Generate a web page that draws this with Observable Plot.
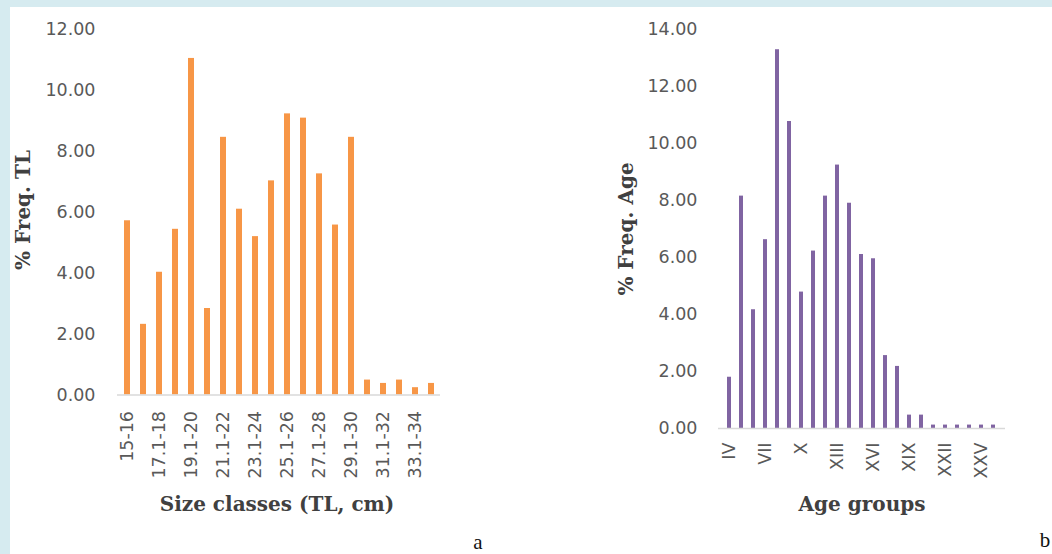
<!DOCTYPE html>
<html>
<head>
<meta charset="utf-8">
<script src="https://cdn.jsdelivr.net/npm/d3@7"></script>
<script src="https://cdn.jsdelivr.net/npm/@observablehq/plot@0.6"></script>
<style>
  html, body { margin: 0; padding: 0; background: #ffffff; }
  #page { position: relative; width: 1052px; height: 554px; background: #d6ebf0; overflow: hidden; }
  #sheet { position: absolute; left: 10px; top: 7px; width: 1042px; height: 547px; background: #ffffff; }
  .chart { position: absolute; top: 0; }
  .title { position: absolute; font-family: "DejaVu Serif", serif; font-weight: bold; font-size: 20px; color: #404040; white-space: nowrap; transform: translate(-50%, -50%); }
  .ytitle { transform: translate(-50%, -50%) rotate(-90deg); }
  .panel { position: absolute; font-family: "Liberation Serif", serif; font-size: 21px; color: #111; transform: translate(-50%, -50%); }
</style>
</head>
<body>
<div id="page">
  <div id="sheet"></div>
</div>
<script>
// ---- Data ----
const sizeClasses = ["15-16","16.1-17","17.1-18","18.1-19","19.1-20","20.1-21","21.1-22","22.1-23","23.1-24","24.1-25",
                     "25.1-26","26.1-27","27.1-28","28.1-29","29.1-30","30.1-31","31.1-32","32.1-33","33.1-34","34.1-35"];
const sizeFreq = [5.72, 2.32, 4.03, 5.44, 11.05, 2.84, 8.46, 6.10, 5.20, 7.03,
                  9.23, 9.09, 7.26, 5.58, 8.46, 0.49, 0.38, 0.49, 0.24, 0.38];
const sizeTicks = ["15-16","17.1-18","19.1-20","21.1-22","23.1-24","25.1-26","27.1-28","29.1-30","31.1-32","33.1-34"];
const sizeYTicks = [0, 2, 4, 6, 8, 10, 12];

const ageGroups = ["IV","V","VI","VII","VIII","IX","X","XI","XII","XIII","XIV","XV","XVI","XVII","XVIII",
                   "XIX","XX","XXI","XXII","XXIII","XXIV","XXV","XXVI"];
const ageFreq = [1.80, 8.16, 4.17, 6.63, 13.30, 10.78, 4.79, 6.23, 8.16, 9.25, 7.91, 6.11, 5.96, 2.56, 2.18,
                 0.47, 0.47, 0.12, 0.12, 0.12, 0.12, 0.12, 0.12];
const ageTicks = ["IV","VII","X","XIII","XVI","XIX","XXII","XXV"];
const ageYTicks = [0, 2, 4, 6, 8, 10, 12, 14];

const orange = "#f79646";
const purple = "#8064a2";

const sizeData = sizeClasses.map((c, i) => ({cls: c, v: sizeFreq[i]}));
const ageData = ageGroups.map((g, i) => ({grp: g, v: ageFreq[i]}));

const baseStyle = {fontFamily: "'DejaVu Sans', sans-serif", fontSize: "17.5px", color: "#595959", background: "transparent", overflow: "visible"};

// Panel a (svg origin at page x=10,y=7)
const chartA = Plot.plot({
  width: 460, height: 480,
  marginLeft: 107, marginRight: 30, marginTop: 22, marginBottom: 92.5,
  style: baseStyle,
  x: {type: "band", domain: sizeClasses, paddingInner: 0.63, paddingOuter: 0.315, label: null},
  y: {domain: [0, 12], label: null},
  marks: [
    Plot.barY(sizeData, {x: "cls", y: "v", fill: orange}),
    Plot.ruleY([0], {stroke: "#d9d9d9", strokeWidth: 1.5}),
    Plot.axisY({ticks: sizeYTicks, tickFormat: d => d.toFixed(2), tickSize: 0, tickPadding: 22, label: null}),
    Plot.axisX({ticks: sizeTicks, tickRotate: -90, tickSize: 0, tickPadding: 16, label: null})
  ]
});
chartA.classList.add("chart");
chartA.style.left = "0px";

// Panel b
const chartB = Plot.plot({
  width: 492, height: 480,
  marginLeft: 158, marginRight: 47, marginTop: 22.3, marginBottom: 59,
  style: baseStyle,
  x: {type: "band", domain: ageGroups, paddingInner: 0.65, paddingOuter: 0.325, label: null},
  y: {domain: [0, 14], label: null},
  marks: [
    Plot.barY(ageData, {x: "grp", y: "v", fill: purple}),
    Plot.ruleY([0], {stroke: "#d9d9d9", strokeWidth: 1.5}),
    Plot.axisY({ticks: ageYTicks, tickFormat: d => d.toFixed(2), tickSize: 0, tickPadding: 21, label: null}),
    Plot.axisX({ticks: ageTicks, tickRotate: -90, tickSize: 0, tickPadding: 14, label: null})
  ]
});
chartB.classList.add("chart");
chartB.style.left = "550px";

const sheet = document.getElementById("sheet");
sheet.appendChild(chartA);
sheet.appendChild(chartB);

function addText(txt, x, y, cls) {
  const d = document.createElement("div");
  d.className = cls;
  d.textContent = txt;
  d.style.left = (x - 10) + "px";
  d.style.top = (y - 7) + "px";
  sheet.appendChild(d);
}
addText("% Freq. TL", 23, 210, "title ytitle");
addText("Size classes (TL, cm)", 277, 504, "title");
addText("% Freq. Age", 626, 229, "title ytitle");
addText("Age groups", 862, 504, "title");
addText("a", 478, 542, "panel");
addText("b", 1045, 540, "panel");
</script>
</body>
</html>
